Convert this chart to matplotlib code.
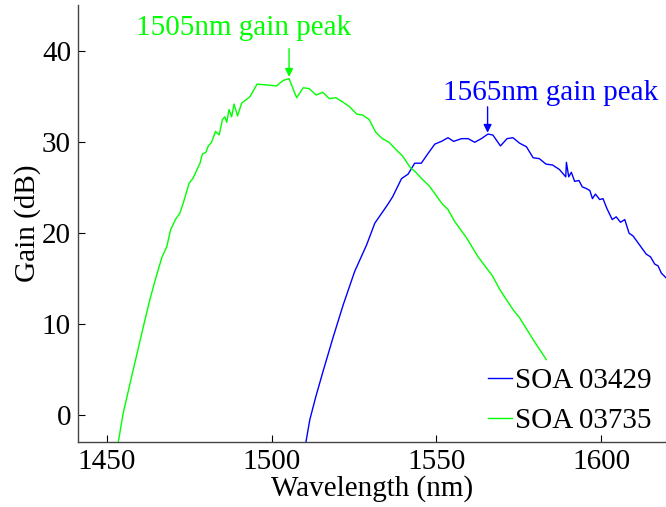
import matplotlib
matplotlib.use("Agg")
import matplotlib.pyplot as plt

# SOA 03735 (green) - wavelength (nm), gain (dB)
wl_green = [1453.5, 1455.0, 1457.1, 1459.1, 1461.1, 1463.1, 1464.6, 1466.7, 1468.2, 1469.4,
            1471.0, 1472.2, 1473.2, 1475.0, 1476.1, 1478.3, 1479.0, 1480.1, 1480.8, 1481.8,
            1483.0, 1484.1, 1485.1, 1485.8, 1486.4, 1487.1, 1487.9, 1488.6, 1489.7, 1490.9,
            1493.4, 1495.6, 1498.5, 1501.5, 1503.5, 1505.3, 1507.6, 1509.6, 1511.4, 1513.5,
            1515.5, 1517.5, 1519.5, 1521.7, 1523.7, 1525.8, 1527.6, 1529.6, 1531.6, 1533.6,
            1535.6, 1537.7, 1539.7, 1541.9, 1543.7, 1545.8, 1547.8, 1549.8, 1551.8, 1553.5,
            1555.5, 1559.1, 1562.6, 1567.0, 1569.2, 1573.2, 1575.2, 1579.3, 1583.3]
gain_green = [-3.0, 0.2, 3.5, 6.6, 9.7, 12.7, 14.7, 17.3, 18.5, 20.4,
              21.6, 22.2, 23.3, 25.5, 26.0, 27.7, 28.7, 28.9, 29.6, 30.0,
              31.2, 30.8, 32.5, 32.8, 32.2, 33.6, 32.8, 34.2, 32.9, 34.3,
              35.0, 36.4, 36.3, 36.2, 36.8, 37.0, 34.9, 36.0, 35.9, 35.2,
              35.5, 34.8, 34.9, 34.4, 33.9, 33.1, 33.0, 32.5, 31.1, 30.4,
              30.0, 29.2, 28.5, 27.3, 26.7, 25.9, 25.2, 24.2, 23.2, 22.6,
              21.3, 19.5, 17.4, 15.3, 13.8, 11.6, 10.7, 8.3, 6.1]

# SOA 03429 (blue)
wl_blue = [1510.4, 1511.6, 1513.4, 1515.6, 1518.7, 1521.7, 1525.2, 1528.8, 1531.3, 1535.3,
           1536.7, 1539.4, 1541.4, 1543.4, 1545.4, 1547.5, 1549.5, 1551.5, 1553.5, 1555.2,
           1557.6, 1559.6, 1561.6, 1563.6, 1565.6, 1567.1, 1569.4, 1571.4, 1573.2, 1575.2,
           1577.3, 1579.3, 1581.2, 1583.2, 1585.2, 1587.3, 1589.2, 1589.4, 1590.1, 1590.9,
           1591.9, 1593.2, 1594.2, 1595.5, 1596.5, 1597.3, 1598.2, 1599.5, 1600.5, 1601.7,
           1603.3, 1604.5, 1605.8, 1607.1, 1608.4, 1609.6, 1610.6, 1613.6, 1614.9, 1616.2,
           1617.2, 1618.2, 1619.6]
gain_blue = [-3.0, -0.5, 2.0, 4.8, 8.6, 12.1, 15.8, 18.7, 21.1, 23.2,
             24.0, 26.0, 26.5, 27.7, 27.7, 28.8, 29.8, 30.1, 30.5, 30.1,
             30.4, 30.4, 30.0, 30.4, 30.9, 30.8, 29.6, 30.4, 30.5, 29.9,
             29.5, 28.3, 28.2, 27.6, 27.5, 27.0, 26.2, 27.8, 26.2, 26.7,
             25.7, 25.8, 25.1, 24.9, 24.7, 23.8, 24.3, 23.7, 23.8, 22.7,
             21.5, 21.8, 21.2, 21.5, 20.0, 19.7, 19.2, 17.7, 17.4, 16.6,
             16.4, 15.6, 15.1]

x_ticks = [1450, 1500, 1550, 1600]
y_ticks = [0, 10, 20, 30, 40]
labels = ["SOA 03429", "SOA 03735"]

plt.rcParams['font.family'] = ['Liberation Serif', 'DejaVu Serif']
FS = 21

fig = plt.figure(figsize=(6.66, 5.07), dpi=100)
ax = fig.add_axes([78/666, 1 - 442.3/507, (666 - 78)/666, (442.3 - 5)/507])

blue = '#0000ff'
green = '#00ff00'
ax.plot(wl_blue, gain_blue, color=blue, lw=1.0, label=labels[0])
ax.plot(wl_green, gain_green, color=green, lw=1.0, label=labels[1])

ax.set_xlim(1441.3, 1619.6)
ax.set_ylim(-3, 45.1)
ax.set_xticks(x_ticks)
ax.set_yticks(y_ticks)
ax.tick_params(direction='in', length=5, width=0.8, labelsize=FS, pad=5)
for s in ['top', 'right']:
    ax.spines[s].set_visible(False)
for s in ['left', 'bottom']:
    ax.spines[s].set_color('#444444')
    ax.spines[s].set_linewidth(1.0)

ax.set_xlabel("Wavelength (nm)", fontsize=FS, labelpad=0)
ax.set_ylabel("Gain (dB)", fontsize=FS, labelpad=0.5)

ax.annotate("", xy=(1505.3, 37.2), xytext=(1505.3, 40.3),
            arrowprops=dict(arrowstyle='-|>', color=green, lw=1.0, mutation_scale=12,
                            shrinkA=0, shrinkB=0))
ax.text(1491.6, 41.8, "1505nm gain peak", color=green, fontsize=FS, ha='center', va='baseline')

ax.annotate("", xy=(1565.5, 31.05), xytext=(1565.5, 33.9),
            arrowprops=dict(arrowstyle='-|>', color=blue, lw=1.0, mutation_scale=12,
                            shrinkA=0, shrinkB=0))
ax.text(1584.5, 34.65, "1565nm gain peak", color=blue, fontsize=FS, ha='center', va='baseline')

leg = ax.legend(loc='lower right', bbox_to_anchor=(0.991, -0.001), frameon=False, fontsize=FS,
                handlelength=0.82, handletextpad=0.1, labelspacing=0.45, borderpad=0,
                borderaxespad=0.3)

fig.savefig("out.png", dpi=100)
